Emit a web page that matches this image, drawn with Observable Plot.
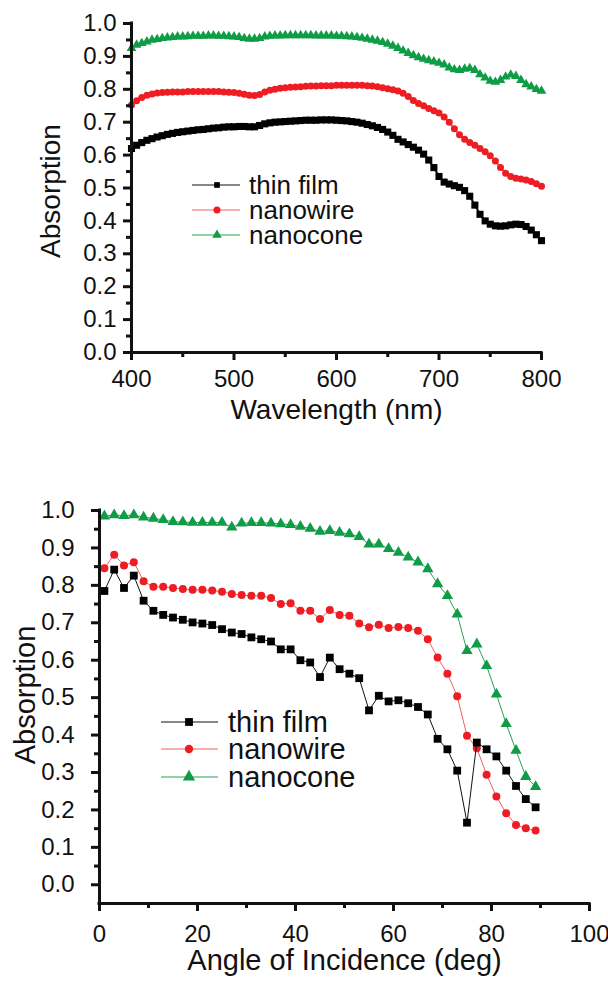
<!DOCTYPE html>
<html><head><meta charset="utf-8">
<script src="https://cdn.jsdelivr.net/npm/d3@7"></script>
<script src="https://cdn.jsdelivr.net/npm/@observablehq/plot@0.6"></script>
<style>
body{margin:0;background:#fff;}
#wrap{position:relative;width:608px;height:983px;font-family:"Liberation Sans",Arial,sans-serif;}
#top{position:absolute;left:0;top:0;}
#bot{position:absolute;left:0;top:440px;}
</style></head><body><div id="wrap"><div id="top"></div><div id="bot"></div></div>
<script>
// ---------- data: panel (a) absorption vs wavelength ----------
const wavelength = [
 400,405,410,415,420,425,430,435,440,445,
 450,455,460,465,470,475,480,485,490,495,
 500,505,510,515,520,525,530,535,540,545,
 550,555,560,565,570,575,580,585,590,595,
 600,605,610,615,620,625,630,635,640,645,
 650,655,660,665,670,675,680,685,690,695,
 700,705,710,715,720,725,730,735,740,745,
 750,755,760,765,770,775,780,785,790,795,
 800];
const thinFilmWL = [
 0.620,0.630,0.638,0.645,0.650,0.655,0.659,0.663,0.666,0.669,
 0.671,0.673,0.675,0.677,0.678,0.680,0.682,0.683,0.685,0.686,
 0.686,0.687,0.687,0.686,0.686,0.690,0.695,0.698,0.700,0.701,
 0.702,0.703,0.704,0.705,0.706,0.706,0.706,0.707,0.707,0.707,
 0.706,0.705,0.704,0.702,0.700,0.697,0.693,0.689,0.684,0.678,
 0.670,0.660,0.648,0.640,0.632,0.624,0.615,0.603,0.585,0.562,
 0.535,0.518,0.512,0.507,0.502,0.492,0.475,0.448,0.420,0.400,
 0.390,0.385,0.384,0.385,0.388,0.390,0.389,0.383,0.372,0.358,
 0.340];
const nanowireWL = [
 0.752,0.765,0.775,0.782,0.786,0.789,0.790,0.791,0.792,0.792,
 0.792,0.793,0.793,0.793,0.793,0.793,0.793,0.793,0.792,0.791,
 0.790,0.788,0.785,0.782,0.781,0.784,0.792,0.797,0.800,0.803,
 0.805,0.806,0.807,0.808,0.809,0.810,0.810,0.811,0.811,0.811,
 0.812,0.812,0.812,0.812,0.812,0.812,0.811,0.810,0.808,0.805,
 0.802,0.799,0.795,0.788,0.778,0.766,0.757,0.750,0.742,0.735,
 0.728,0.716,0.700,0.680,0.662,0.648,0.638,0.630,0.620,0.610,
 0.598,0.582,0.562,0.545,0.535,0.530,0.527,0.524,0.520,0.513,
 0.505];
const nanoconeWL = [
 0.925,0.935,0.940,0.945,0.950,0.952,0.955,0.957,0.958,0.960,
 0.960,0.961,0.962,0.962,0.962,0.963,0.963,0.962,0.962,0.961,
 0.960,0.958,0.955,0.953,0.953,0.955,0.960,0.962,0.963,0.963,
 0.964,0.964,0.964,0.964,0.964,0.964,0.963,0.963,0.963,0.963,
 0.962,0.962,0.961,0.960,0.958,0.956,0.953,0.950,0.947,0.943,
 0.938,0.932,0.925,0.917,0.910,0.903,0.897,0.892,0.888,0.884,
 0.880,0.875,0.866,0.860,0.858,0.862,0.864,0.858,0.845,0.835,
 0.825,0.822,0.828,0.838,0.844,0.840,0.828,0.815,0.808,0.800,
 0.795];

// ---------- data: panel (b) absorption vs angle of incidence ----------
const angle = [
 1,3,5,7,9,11,13,15,17,19,
 21,23,25,27,29,31,33,35,37,39,
 41,43,45,47,49,51,53,55,57,59,
 61,63,65,67,69,71,73,75,77,79,
 81,83,85,87,89];
const thinFilmAng = [
 0.785,0.842,0.793,0.826,0.759,0.732,0.721,0.714,0.708,0.701,
 0.698,0.694,0.683,0.674,0.670,0.661,0.656,0.650,0.629,0.629,
 0.600,0.594,0.555,0.607,0.576,0.564,0.552,0.466,0.505,0.490,
 0.493,0.485,0.475,0.455,0.390,0.362,0.305,0.166,0.380,0.362,
 0.343,0.305,0.264,0.229,0.207];
const nanowireAng = [
 0.846,0.882,0.853,0.862,0.811,0.796,0.796,0.793,0.790,0.788,
 0.788,0.786,0.783,0.777,0.774,0.772,0.772,0.766,0.750,0.752,
 0.732,0.732,0.710,0.734,0.721,0.719,0.698,0.688,0.695,0.686,
 0.689,0.686,0.679,0.656,0.607,0.564,0.504,0.398,0.365,0.294,
 0.236,0.191,0.160,0.151,0.145];
const nanoconeAng = [
 0.985,0.988,0.986,0.988,0.982,0.979,0.975,0.970,0.969,0.968,
 0.968,0.968,0.968,0.955,0.966,0.967,0.967,0.966,0.964,0.962,
 0.957,0.952,0.944,0.946,0.941,0.937,0.930,0.910,0.910,0.898,
 0.888,0.875,0.862,0.844,0.804,0.772,0.723,0.625,0.643,0.585,
 0.509,0.430,0.359,0.289,0.262];

// ---------- series, ticks, labels ----------
const seriesNames = ["thin film", "nanowire", "nanocone"];
const seriesSymbols = ["square", "circle", "triangle"];
const yTicks = [0.0,0.1,0.2,0.3,0.4,0.5,0.6,0.7,0.8,0.9,1.0];
const yMinor = [0.05,0.15,0.25,0.35,0.45,0.55,0.65,0.75,0.85,0.95];
const wlTicks = [400,500,600,700,800];
const wlMinor = [450,550,650,750];
const angTicks = [0,20,40,60,80,100];
const angMinor = [10,30,50,70,90];
const yTitle = "Absorption";
const xTitleA = "Wavelength (nm)";
const xTitleB = "Angle of Incidence (deg)";

// ---------- styles ----------
const markColor = ["#000000", "#ee1d23", "#0e9c47"];
const lineColor = ["#111111", "#f0605f", "#23a357"];
const FONT = '"Liberation Sans", Arial, sans-serif';

function rows(xs, lists) {
  return lists.map((vals, i) => xs.map((x, j) => ({x, y: vals[j], s: seriesNames[i]})));
}
const rowsA = rows(wavelength, [thinFilmWL, nanowireWL, nanoconeWL]);
const rowsB = rows(angle, [thinFilmAng, nanowireAng, nanoconeAng]);

function seriesMarks(rs, rSizes, lineW) {
  const out = [];
  [2, 1, 0].forEach(i => {
    out.push(Plot.line(rs[i], {x: "x", y: "y", stroke: lineColor[i], strokeWidth: lineW}));
    out.push(Plot.dot(rs[i], {x: "x", y: "y", symbol: seriesSymbols[i], fill: markColor[i], r: rSizes[i]}));
  });
  return out;
}

function addLegend(svg, x0, x1, xm, xt, ys, fs, symSizes, lw) {
  const g = d3.select(svg).append("g")
    .attr("font-family", FONT).attr("font-size", fs).attr("text-anchor", "start");
  const syms = [d3.symbolSquare, d3.symbolCircle, d3.symbolTriangle];
  seriesNames.forEach((name, i) => {
    g.append("line").attr("x1", x0).attr("x2", x1).attr("y1", ys[i]).attr("y2", ys[i])
      .attr("stroke", lineColor[i]).attr("stroke-width", lw);
    g.append("path").attr("d", d3.symbol(syms[i], Math.PI * symSizes[i] * symSizes[i])())
      .attr("transform", `translate(${xm},${ys[i]})`).attr("fill", markColor[i]);
    g.append("text").attr("x", xt).attr("y", ys[i]).attr("dy", "0.36em")
      .attr("text-anchor", "start").attr("fill", "#111").text(name);
  });
}

// ---------- panel (a) ----------
const WA = 608, HA = 440;
const plotA = Plot.plot({
  width: WA, height: HA,
  marginLeft: 131, marginRight: 67, marginTop: 23, marginBottom: 88,
  x: {domain: [400, 800], label: null},
  y: {domain: [0, 1], label: null},
  style: {fontFamily: FONT, fontSize: "24px", color: "#111", background: "#fff", overflow: "visible"},
  marks: [
    ...seriesMarks(rowsA, [4.0, 3.5, 3.6], 2),
    Plot.axisY(yTicks, {tickSize: 8, strokeWidth: 3, tickPadding: 7, tickFormat: d => d.toFixed(1), label: null}),
    Plot.axisY(yMinor, {tickSize: 5, strokeWidth: 3, tickFormat: () => "", label: null}),
    Plot.axisX(wlTicks, {tickSize: 8, strokeWidth: 3, tickPadding: 9, tickFormat: d => String(d), label: null}),
    Plot.axisX(wlMinor, {tickSize: 5, strokeWidth: 3, tickFormat: () => "", label: null}),
    Plot.ruleX([400], {strokeWidth: 3, strokeLinecap: "square"}),
    Plot.ruleY([0], {strokeWidth: 3, strokeLinecap: "square"}),
    Plot.text([xTitleA], {text: d => d, frameAnchor: "bottom", dy: 66, fontSize: 28, textAnchor: "middle"}),
    Plot.text([yTitle], {text: d => d, frameAnchor: "left", textAnchor: "middle", dx: -80, dy: 3, rotate: -90, fontSize: 28})
  ]
});
addLegend(plotA, 192, 240, 217, 249, [185, 210, 235], 26, [3.2, 3.5, 3.6], 1.2);
document.getElementById("top").appendChild(plotA);

// ---------- panel (b) ----------
const WB = 608, HB = 543;
const plotB = Plot.plot({
  width: WB, height: HB,
  marginLeft: 99, marginRight: 19, marginTop: 70, marginBottom: 80,
  x: {domain: [0, 100], label: null},
  y: {domain: [-0.05, 1], label: null},
  style: {fontFamily: FONT, fontSize: "24px", color: "#111", background: "#fff", overflow: "visible"},
  marks: [
    ...seriesMarks(rowsB, [4.4, 4.0, 4.2], 1),
    Plot.axisY(yTicks, {tickSize: 8, strokeWidth: 3, tickPadding: 17, tickFormat: d => d.toFixed(1), label: null}),
    Plot.axisY(yMinor, {tickSize: 5, strokeWidth: 3, tickFormat: () => "", label: null}),
    Plot.axisX(angTicks, {tickSize: 8, strokeWidth: 3, tickPadding: 13, tickFormat: d => String(d), label: null}),
    Plot.axisX(angMinor, {tickSize: 5, strokeWidth: 3, tickFormat: () => "", label: null}),
    Plot.ruleX([0], {strokeWidth: 3, strokeLinecap: "square"}),
    Plot.ruleY([-0.05], {strokeWidth: 3, strokeLinecap: "square"}),
    Plot.text([xTitleB], {text: d => d, frameAnchor: "bottom", dy: 66, fontSize: 29, textAnchor: "middle"}),
    Plot.text([yTitle], {text: d => d, frameAnchor: "left", textAnchor: "middle", dx: -74, dy: -12, rotate: -90, fontSize: 29})
  ]
});
addLegend(plotB, 161, 218, 189, 228, [282, 309, 337], 29, [4.4, 4.2, 4.6], 1.2);
document.getElementById("bot").appendChild(plotB);
</script>
</body></html>
